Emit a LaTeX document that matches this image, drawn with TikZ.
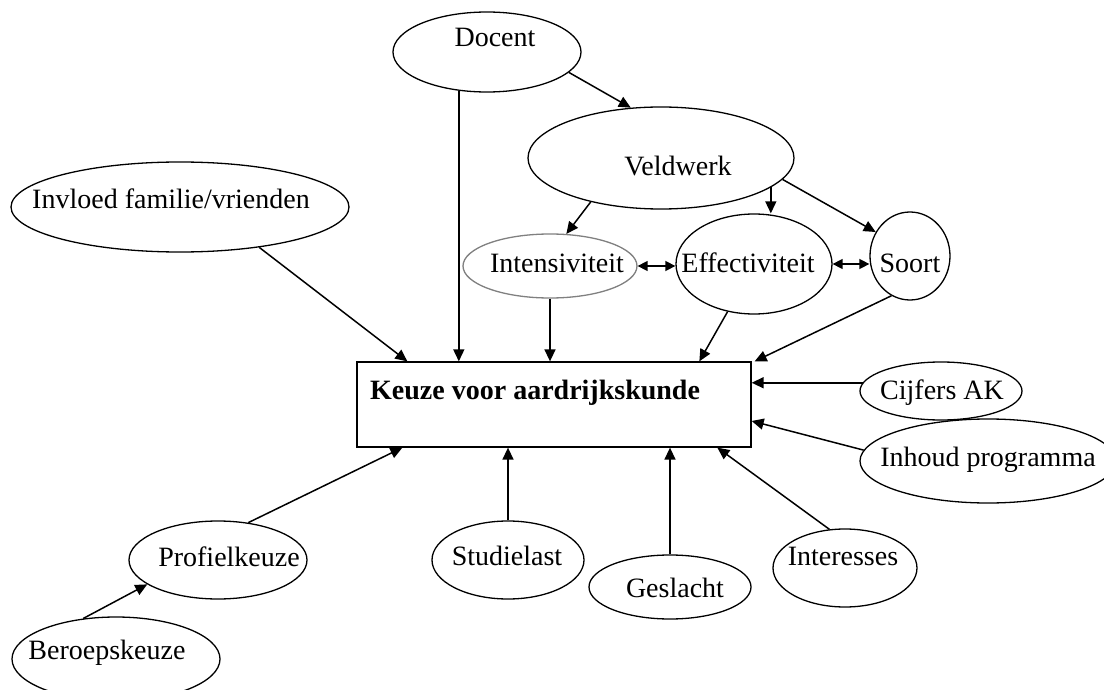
\documentclass[tikz,border=0pt]{standalone}
\usepackage{fontspec}
\setmainfont{Liberation Serif}
\usetikzlibrary{shapes.geometric,arrows.meta}
\begin{document}
\begin{tikzpicture}[x=1pt,y=-1pt,
  oval/.style={draw, ellipse, line width=1.3pt, inner sep=0pt},
  lbl/.style={font=\fontsize{28}{32}\selectfont, inner sep=0pt},
  arr/.style={line width=1.5pt, -{Triangle[length=12pt,width=11pt]}},
  dbl/.style={line width=1.5pt, {Triangle[length=10pt,width=10pt]}-{Triangle[length=10pt,width=10pt]}}]
\useasboundingbox (0,0) rectangle (1104,690);
\clip (0,0) rectangle (1104,690);
\fill[white] (0,0) rectangle (1104,690);

% shapes
\node[oval, minimum width=188pt, minimum height=80pt] (docent) at (487,52) {};
\node[oval, minimum width=266pt, minimum height=102pt] (veld) at (661,158) {};
\node[oval, minimum width=338pt, minimum height=90pt] (invloed) at (180,207) {};
\node[oval, draw=gray, minimum width=174pt, minimum height=64pt] (inten) at (550,266) {};
\node[oval, minimum width=156pt, minimum height=100pt] (effect) at (754,264) {};
\node[oval, minimum width=80pt, minimum height=88pt] (soort) at (910,256) {};
\node[draw, rectangle, line width=1.3pt, minimum width=394pt, minimum height=85pt, inner sep=0pt] (box) at (554,404.5) {};
\node[oval, minimum width=162pt, minimum height=58pt] (cijfers) at (941,391) {};
\node[oval, minimum width=256pt, minimum height=84pt] (inhoud) at (988,461) {};
\node[oval, minimum width=178pt, minimum height=78pt] (profiel) at (218,560) {};
\node[oval, minimum width=152pt, minimum height=78pt] (studie) at (508,560) {};
\node[oval, minimum width=162pt, minimum height=64pt] (geslacht) at (670,587) {};
\node[oval, minimum width=144pt, minimum height=78pt] (inter) at (845,568) {};
\node[oval, minimum width=208pt, minimum height=84pt] (beroep) at (116,659) {};

% texts
\node[lbl] (tdocent) at (495,37) {Docent};
\node[lbl] (tveld) at (678,166) {Veldwerk};
\node[lbl] (tinvloed) at (171,199) {Invloed familie/vrienden};
\node[lbl] (tinten) at (557,263) {Intensiviteit};
\node[lbl] (teffect) at (748,263) {Effectiviteit};
\node[lbl] (tsoort) at (910,263) {Soort};
\node[lbl, font=\fontsize{28}{32}\selectfont\bfseries, anchor=west] (tkeuze) at (370,393) {Keuze voor aardrijkskunde};
\node[lbl] (tcijfers) at (942,393) {Cijfers AK};
\node[lbl] (tinhoud) at (988,460) {Inhoud programma};
\node[lbl] (tprofiel) at (229,557) {Profielkeuze};
\node[lbl] (tstudie) at (507,556) {Studielast};
\node[lbl] (tgeslacht) at (675,588) {Geslacht};
\node[lbl] (tinter) at (843,556) {Interesses};
\node[lbl] (tberoep) at (107,653) {Beroepskeuze};

% connectors
\draw[arr] (docent.-14) -- (veld.121);
\draw[arr] (docent.-126) -- (docent.-126 |- box.north);
\draw[arr] (invloed.-27) -- ([xshift=51pt]box.north west);
\draw[arr] (inten.south) -- (inten.south |- box.north);
\draw[arr] (effect.-119) -- ([xshift=343pt]box.north west);
\draw[arr] (soort.-115) -- ([xshift=3pt]box.north east);
\draw[arr] (veld.-148) -- (inten.63);
\draw[arr] (veld.-15.5) -- (veld.-15.5 |- effect.north);
\draw[arr] (veld.-10.3) -- (soort.145.6);
\draw[dbl] (inten.east) -- (inten.east -| effect.west);
\draw[dbl] (effect.east) -- (effect.east -| soort.west);
\draw[arr] (cijfers.174) -- (cijfers.174 -| box.east);
\draw[arr] (inhoud.175) -- ([yshift=-16.5pt]box.east);
\draw[arr] (profiel.51) -- ([xshift=46pt]box.south west);
\draw[arr] (beroep.129.5) -- (profiel.-161.3);
\draw[arr] (studie.north) -- (studie.north |- box.south);
\draw[arr] (geslacht.north) -- (geslacht.north |- box.south);
\draw[arr] (inter.112) -- ([xshift=361pt]box.south west);
\end{tikzpicture}
\end{document}
